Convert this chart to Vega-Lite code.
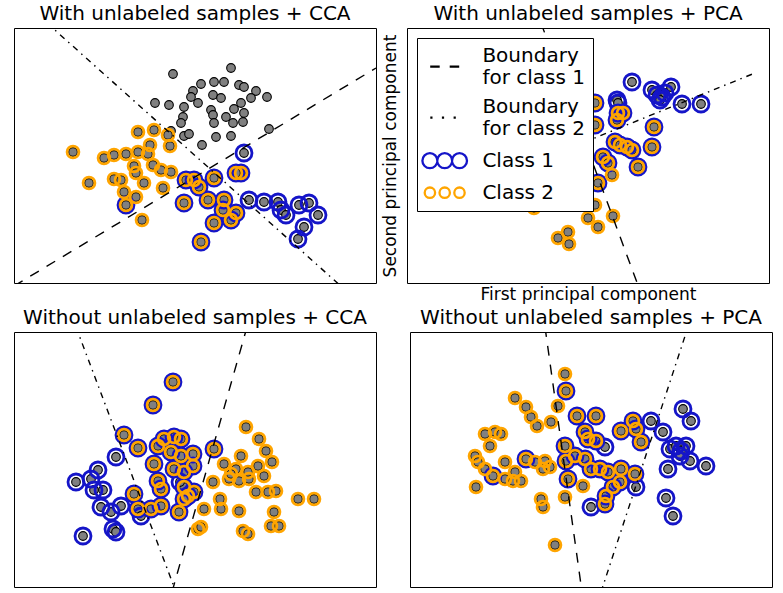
{
"$schema":"https://vega.github.io/schema/vega-lite/v6.json",
"background":"white",
"padding":{"left":13,"top":3,"right":5,"bottom":5},
"config":{
 "font":"DejaVu Sans",
 "view":{"stroke":"black","strokeWidth":1},
 "title":{"font":"DejaVu Sans","fontSize":20,"fontWeight":"normal","color":"black","offset":4,"anchor":"middle"},
 "axis":{"titleFont":"DejaVu Sans","titleFontSize":17,"titleFontWeight":"normal","titleColor":"black","grid":false,"domain":false,"ticks":false,"labels":false}
},
"datasets":{
 "tl":[
  {"x":159,"y":46,"lab":"0"},{"x":141,"y":75,"lab":"0"},{"x":155,"y":77,"lab":"0"},{"x":170,"y":79,"lab":"0"},{"x":179,"y":63,"lab":"0"},{"x":177,"y":69,"lab":"0"},{"x":184,"y":75,"lab":"0"},{"x":169,"y":89,"lab":"0"},{"x":167,"y":95,"lab":"0"},{"x":157,"y":103,"lab":"0"},{"x":170,"y":108,"lab":"0"},{"x":175,"y":106,"lab":"0"},{"x":188,"y":117,"lab":"0"},{"x":217,"y":40,"lab":"0"},{"x":187,"y":56,"lab":"0"},{"x":200,"y":54,"lab":"0"},{"x":210,"y":54,"lab":"0"},{"x":225,"y":57,"lab":"0"},{"x":230,"y":59,"lab":"0"},{"x":242,"y":63,"lab":"0"},{"x":199,"y":67,"lab":"0"},{"x":207,"y":70,"lab":"0"},{"x":237,"y":70,"lab":"0"},{"x":253,"y":69,"lab":"0"},{"x":227,"y":75,"lab":"0"},{"x":197,"y":82,"lab":"0"},{"x":220,"y":81,"lab":"0"},{"x":230,"y":85,"lab":"0"},{"x":212,"y":89,"lab":"0"},{"x":199,"y":87,"lab":"0"},{"x":219,"y":95,"lab":"0"},{"x":229,"y":94,"lab":"0"},{"x":255,"y":101,"lab":"0"},{"x":200,"y":95,"lab":"0"},{"x":202,"y":109,"lab":"0"},{"x":217,"y":108,"lab":"0"},
  {"x":59,"y":124,"lab":"2"},{"x":75,"y":155,"lab":"2"},{"x":124,"y":104,"lab":"2"},{"x":140,"y":102,"lab":"2"},{"x":154,"y":107,"lab":"2"},{"x":156,"y":118,"lab":"2"},{"x":136,"y":117,"lab":"2"},{"x":124,"y":124,"lab":"2"},{"x":112,"y":126,"lab":"2"},{"x":100,"y":127,"lab":"2"},{"x":90,"y":130,"lab":"2"},{"x":134,"y":126,"lab":"2"},{"x":120,"y":138,"lab":"2"},{"x":139,"y":137,"lab":"2"},{"x":147,"y":142,"lab":"2"},{"x":157,"y":144,"lab":"2"},{"x":100,"y":151,"lab":"2"},{"x":107,"y":152,"lab":"2"},{"x":122,"y":145,"lab":"2"},{"x":130,"y":155,"lab":"2"},{"x":149,"y":160,"lab":"2"},{"x":110,"y":164,"lab":"2"},{"x":122,"y":169,"lab":"2"},{"x":128,"y":192,"lab":"2"},
  {"x":112,"y":177,"lab":"12"},{"x":172,"y":152,"lab":"12"},{"x":170,"y":175,"lab":"12"},{"x":187,"y":214,"lab":"12"},{"x":227,"y":145,"lab":"12"},{"x":222,"y":145,"lab":"12"},{"x":200,"y":150,"lab":"12"},{"x":180,"y":152,"lab":"12"},{"x":185,"y":159,"lab":"12"},{"x":194,"y":172,"lab":"12"},{"x":210,"y":172,"lab":"12"},{"x":209,"y":182,"lab":"12"},{"x":222,"y":185,"lab":"12"},{"x":200,"y":195,"lab":"12"},{"x":217,"y":192,"lab":"12"},
  {"x":230,"y":125,"lab":"1"},{"x":235,"y":172,"lab":"1"},{"x":250,"y":174,"lab":"1"},{"x":264,"y":174,"lab":"1"},{"x":267,"y":182,"lab":"1"},{"x":272,"y":187,"lab":"1"},{"x":285,"y":177,"lab":"1"},{"x":295,"y":175,"lab":"1"},{"x":304,"y":187,"lab":"1"},{"x":290,"y":199,"lab":"1"},{"x":284,"y":211,"lab":"1"}
 ],
 "tl_lines":[{"b":"1","x":0,"y":258},{"b":"1","x":362,"y":40},{"b":"2","x":33,"y":-5},{"b":"2","x":329,"y":260}],
 "tr":[
  {"x":127,"y":180,"lab":"2"},{"x":151,"y":210,"lab":"2"},{"x":161,"y":204,"lab":"2"},{"x":162,"y":216,"lab":"2"},{"x":205,"y":147,"lab":"2"},{"x":188,"y":177,"lab":"2"},{"x":181,"y":190,"lab":"2"},{"x":191,"y":199,"lab":"2"},{"x":206,"y":188,"lab":"2"},
  {"x":225,"y":54,"lab":"1"},{"x":245,"y":62,"lab":"1"},{"x":250,"y":67,"lab":"1"},{"x":255,"y":69,"lab":"1"},{"x":258,"y":65,"lab":"1"},{"x":264,"y":59,"lab":"1"},{"x":253,"y":72,"lab":"1"},{"x":275,"y":76,"lab":"1"},{"x":294,"y":76,"lab":"1"},{"x":210,"y":72,"lab":"1"},{"x":211,"y":75,"lab":"1"},
  {"x":188,"y":75,"lab":"12"},{"x":188,"y":97,"lab":"12"},{"x":211,"y":85,"lab":"12"},{"x":216,"y":85,"lab":"12"},{"x":210,"y":92,"lab":"12"},{"x":247,"y":99,"lab":"12"},{"x":208,"y":114,"lab":"12"},{"x":213,"y":117,"lab":"12"},{"x":220,"y":119,"lab":"12"},{"x":225,"y":122,"lab":"12"},{"x":245,"y":119,"lab":"12"},{"x":196,"y":129,"lab":"12"},{"x":201,"y":135,"lab":"12"},{"x":231,"y":139,"lab":"12"},{"x":191,"y":155,"lab":"12"}
 ],
 "tr_lines":[{"b":"1","x":134,"y":-5},{"b":"1","x":232,"y":260},{"b":"2","x":15,"y":180},{"b":"2","x":348,"y":45}],
 "bl":[
  {"x":159,"y":50,"lab":"12"},{"x":139,"y":73,"lab":"12"},{"x":110,"y":103,"lab":"12"},{"x":124,"y":116,"lab":"12"},{"x":120,"y":162,"lab":"12"},{"x":124,"y":177,"lab":"12"},{"x":137,"y":177,"lab":"12"},{"x":147,"y":174,"lab":"12"},{"x":140,"y":132,"lab":"12"},{"x":150,"y":107,"lab":"12"},{"x":160,"y":105,"lab":"12"},{"x":144,"y":114,"lab":"12"},{"x":157,"y":120,"lab":"12"},{"x":167,"y":124,"lab":"12"},{"x":179,"y":122,"lab":"12"},{"x":144,"y":149,"lab":"12"},{"x":147,"y":157,"lab":"12"},{"x":160,"y":137,"lab":"12"},{"x":170,"y":140,"lab":"12"},{"x":179,"y":134,"lab":"12"},{"x":174,"y":164,"lab":"12"},{"x":180,"y":160,"lab":"12"},{"x":165,"y":180,"lab":"12"},{"x":167,"y":107,"lab":"12"},{"x":170,"y":155,"lab":"12"},{"x":170,"y":167,"lab":"12"},{"x":200,"y":117,"lab":"12"},
  {"x":102,"y":125,"lab":"1"},{"x":62,"y":150,"lab":"1"},{"x":84,"y":138,"lab":"1"},{"x":77,"y":147,"lab":"1"},{"x":80,"y":158,"lab":"1"},{"x":89,"y":158,"lab":"1"},{"x":87,"y":175,"lab":"1"},{"x":97,"y":180,"lab":"1"},{"x":107,"y":174,"lab":"1"},{"x":99,"y":197,"lab":"1"},{"x":102,"y":200,"lab":"1"},{"x":69,"y":204,"lab":"1"},{"x":127,"y":184,"lab":"1"},{"x":166,"y":150,"lab":"1"},
  {"x":184,"y":197,"lab":"2"},{"x":232,"y":95,"lab":"2"},{"x":245,"y":107,"lab":"2"},{"x":252,"y":119,"lab":"2"},{"x":258,"y":130,"lab":"2"},{"x":227,"y":124,"lab":"2"},{"x":199,"y":150,"lab":"2"},{"x":210,"y":132,"lab":"2"},{"x":222,"y":137,"lab":"2"},{"x":244,"y":134,"lab":"2"},{"x":215,"y":147,"lab":"2"},{"x":225,"y":149,"lab":"2"},{"x":235,"y":147,"lab":"2"},{"x":250,"y":144,"lab":"2"},{"x":242,"y":160,"lab":"2"},{"x":254,"y":160,"lab":"2"},{"x":262,"y":159,"lab":"2"},{"x":284,"y":167,"lab":"2"},{"x":300,"y":167,"lab":"2"},{"x":206,"y":167,"lab":"2"},{"x":207,"y":177,"lab":"2"},{"x":190,"y":177,"lab":"2"},{"x":225,"y":179,"lab":"2"},{"x":260,"y":180,"lab":"2"},{"x":257,"y":194,"lab":"2"},{"x":265,"y":194,"lab":"2"},{"x":187,"y":195,"lab":"2"},{"x":229,"y":199,"lab":"2"},{"x":234,"y":202,"lab":"2"},{"x":217,"y":142,"lab":"2"},{"x":234,"y":140,"lab":"2"}
 ],
 "bl_lines":[{"b":"1","x":233,"y":-5},{"b":"1","x":158,"y":260},{"b":"2","x":62,"y":-5},{"b":"2","x":162,"y":260}],
 "br":[
  {"x":155,"y":42,"lab":"2"},{"x":105,"y":66,"lab":"2"},{"x":116,"y":75,"lab":"2"},{"x":121,"y":85,"lab":"2"},{"x":127,"y":94,"lab":"2"},{"x":141,"y":90,"lab":"2"},{"x":148,"y":74,"lab":"2"},{"x":75,"y":102,"lab":"2"},{"x":85,"y":100,"lab":"2"},{"x":91,"y":102,"lab":"2"},{"x":80,"y":114,"lab":"2"},{"x":65,"y":124,"lab":"2"},{"x":68,"y":130,"lab":"2"},{"x":75,"y":137,"lab":"2"},{"x":95,"y":147,"lab":"2"},{"x":95,"y":130,"lab":"2"},{"x":103,"y":149,"lab":"2"},{"x":111,"y":149,"lab":"2"},{"x":105,"y":140,"lab":"2"},{"x":125,"y":130,"lab":"2"},{"x":133,"y":137,"lab":"2"},{"x":140,"y":135,"lab":"2"},{"x":135,"y":129,"lab":"2"},{"x":66,"y":155,"lab":"2"},{"x":131,"y":167,"lab":"2"},{"x":133,"y":175,"lab":"2"},{"x":145,"y":213,"lab":"2"},{"x":173,"y":154,"lab":"2"},{"x":155,"y":165,"lab":"2"},
  {"x":156,"y":59,"lab":"12"},{"x":167,"y":84,"lab":"12"},{"x":186,"y":84,"lab":"12"},{"x":83,"y":144,"lab":"12"},{"x":116,"y":127,"lab":"12"},{"x":155,"y":114,"lab":"12"},{"x":156,"y":129,"lab":"12"},{"x":158,"y":147,"lab":"12"},{"x":175,"y":100,"lab":"12"},{"x":178,"y":107,"lab":"12"},{"x":165,"y":124,"lab":"12"},{"x":175,"y":127,"lab":"12"},{"x":181,"y":137,"lab":"12"},{"x":186,"y":109,"lab":"12"},{"x":211,"y":99,"lab":"12"},{"x":223,"y":89,"lab":"12"},{"x":226,"y":97,"lab":"12"},{"x":231,"y":110,"lab":"12"},{"x":190,"y":137,"lab":"12"},{"x":198,"y":140,"lab":"12"},{"x":211,"y":137,"lab":"12"},{"x":225,"y":142,"lab":"12"},{"x":210,"y":150,"lab":"12"},{"x":203,"y":155,"lab":"12"},{"x":196,"y":164,"lab":"12"},{"x":195,"y":172,"lab":"12"},
  {"x":181,"y":175,"lab":"1"},{"x":195,"y":115,"lab":"1"},{"x":241,"y":89,"lab":"1"},{"x":253,"y":100,"lab":"1"},{"x":273,"y":77,"lab":"1"},{"x":281,"y":89,"lab":"1"},{"x":260,"y":117,"lab":"1"},{"x":266,"y":114,"lab":"1"},{"x":271,"y":119,"lab":"1"},{"x":270,"y":124,"lab":"1"},{"x":276,"y":114,"lab":"1"},{"x":280,"y":129,"lab":"1"},{"x":296,"y":134,"lab":"1"},{"x":258,"y":137,"lab":"1"},{"x":256,"y":166,"lab":"1"},{"x":263,"y":184,"lab":"1"},{"x":226,"y":155,"lab":"1"}
 ],
 "br_lines":[{"b":"1","x":135,"y":-5},{"b":"1","x":172,"y":260},{"b":"2","x":278,"y":-5},{"b":"2","x":191,"y":260}]
},
"resolve":{"scale":{"stroke":"independent","shape":"independent"},"legend":{"stroke":"independent","shape":"independent"}},
"spacing":4,
"vconcat":[
 {"hconcat":[
  {"width":362,"height":255,"title":"With unlabeled samples + CCA",
   "encoding":{"x":{"field":"x","type":"quantitative","scale":{"domain":[0,362],"nice":false,"zero":false},"axis":null},
               "y":{"field":"y","type":"quantitative","scale":{"domain":[0,255],"nice":false,"zero":false,"reverse":true},"axis":null}},
   "layer":[
    {"data":{"name":"tl"},"mark":{"type":"point","filled":true,"fill":"#808080","stroke":"black","strokeWidth":1.1,"size":75,"opacity":1,"clip":true}},
    {"data":{"name":"tl"},"transform":[{"filter":"indexof(datum.lab,'1')>=0"}],"mark":{"type":"point","filled":false,"stroke":"#1515c8","strokeWidth":2.8,"size":256,"opacity":1,"clip":true}},
    {"data":{"name":"tl"},"transform":[{"filter":"indexof(datum.lab,'2')>=0"}],"mark":{"type":"point","filled":false,"stroke":"#ffa500","strokeWidth":2.8,"size":140,"opacity":1,"clip":true}},
    {"data":{"name":"tl_lines"},"transform":[{"filter":"datum.b=='1'"}],"mark":{"type":"line","stroke":"black","strokeWidth":1.4,"strokeDash":[10,9],"clip":true}},
    {"data":{"name":"tl_lines"},"transform":[{"filter":"datum.b=='2'"}],"mark":{"type":"line","stroke":"black","strokeWidth":1.4,"strokeDash":[6,5,1.5,5],"clip":true}}
   ]},
  {"width":362,"height":255,"title":"With unlabeled samples + PCA",
   "encoding":{"x":{"field":"x","type":"quantitative","scale":{"domain":[0,362],"nice":false,"zero":false},"axis":{"title":"First principal component","titlePadding":3}},
               "y":{"field":"y","type":"quantitative","scale":{"domain":[0,255],"nice":false,"zero":false,"reverse":true},"axis":{"title":"Second principal component","titlePadding":8}}},
   "layer":[
    {"data":{"name":"tr"},"mark":{"type":"point","filled":true,"fill":"#808080","stroke":"black","strokeWidth":1.1,"size":75,"opacity":1,"clip":true}},
    {"data":{"name":"tr"},"transform":[{"filter":"indexof(datum.lab,'1')>=0"}],"mark":{"type":"point","filled":false,"stroke":"#1515c8","strokeWidth":2.8,"size":256,"opacity":1,"clip":true}},
    {"data":{"name":"tr"},"transform":[{"filter":"indexof(datum.lab,'2')>=0"}],"mark":{"type":"point","filled":false,"stroke":"#ffa500","strokeWidth":2.8,"size":140,"opacity":1,"clip":true}},
    {"data":{"name":"tr_lines"},"transform":[{"filter":"datum.b=='1'"}],"mark":{"type":"line","stroke":"black","strokeWidth":1.4,"strokeDash":[10,9],"clip":true}},
    {"data":{"name":"tr_lines"},"transform":[{"filter":"datum.b=='2'"}],"mark":{"type":"line","stroke":"black","strokeWidth":1.4,"strokeDash":[6,5,1.5,5],"clip":true}},
    {"data":{"name":"tr"},"transform":[{"filter":"datum.lab=='legend-only'"}],"mark":{"type":"point","filled":false,"strokeWidth":2.3,"opacity":1},
     "encoding":{
      "stroke":{"datum":"Class 1",
       "scale":{"domain":["Boundary for class 1","Boundary for class 2","Class 1","Class 2"],"range":["black","black","#1515c8","#ffa500"]},
       "legend":{"title":null,"orient":"top-left","offset":10,"padding":7.7,"fillColor":"white","strokeColor":"black","cornerRadius":0,
         "symbolSize":100,"symbolStrokeWidth":2.3,"symbolOpacity":1,"labelFont":"DejaVu Sans","labelFontSize":20,"labelColor":"black","labelOffset":37.7,"labelLimit":0,"rowPadding":9,
         "labelExpr":"indexof(datum.label,'Boundary')==0 ? ['Boundary', substring(datum.label, 9)] : datum.label"}},
      "shape":{"datum":"Class 1",
       "scale":{"domain":["Boundary for class 1","Boundary for class 2","Class 1","Class 2"],
                "range":["M-0.9,2.2L1,2.2M3,2.2L4.9,2.2",
                         "M-0.88,2.2L-0.44,2.2M1.44,2.2L1.88,2.2M3.78,2.2L4.22,2.2",
                         "M0.54,0A1.5,1.5,0,1,1,-2.46,0A1.5,1.5,0,1,1,0.54,0ZM3.5,0A1.5,1.5,0,1,1,0.5,0A1.5,1.5,0,1,1,3.5,0ZM6.46,0A1.5,1.5,0,1,1,3.46,0A1.5,1.5,0,1,1,6.46,0Z",
                         "M0.08,0A1.04,1.04,0,1,1,-2,0A1.04,1.04,0,1,1,0.08,0ZM3.04,0A1.04,1.04,0,1,1,0.96,0A1.04,1.04,0,1,1,3.04,0ZM6,0A1.04,1.04,0,1,1,3.92,0A1.04,1.04,0,1,1,6,0Z"]},
       "legend":{"title":null,"orient":"top-left","offset":10,"padding":7.7,"fillColor":"white","strokeColor":"black","cornerRadius":0,
         "symbolSize":100,"symbolStrokeWidth":2.3,"symbolOpacity":1,"labelFont":"DejaVu Sans","labelFontSize":20,"labelColor":"black","labelOffset":37.7,"labelLimit":0,"rowPadding":9,
         "labelExpr":"indexof(datum.label,'Boundary')==0 ? ['Boundary', substring(datum.label, 9)] : datum.label"}}
     }}
   ]}
 ],"spacing":3,"resolve":{"scale":{"stroke":"independent","shape":"independent"},"legend":{"stroke":"independent","shape":"independent"}}},
 {"hconcat":[
  {"width":362,"height":255,"title":"Without unlabeled samples + CCA",
   "encoding":{"x":{"field":"x","type":"quantitative","scale":{"domain":[0,362],"nice":false,"zero":false},"axis":null},
               "y":{"field":"y","type":"quantitative","scale":{"domain":[0,255],"nice":false,"zero":false,"reverse":true},"axis":null}},
   "layer":[
    {"data":{"name":"bl"},"mark":{"type":"point","filled":true,"fill":"#808080","stroke":"black","strokeWidth":1.1,"size":75,"opacity":1,"clip":true}},
    {"data":{"name":"bl"},"transform":[{"filter":"indexof(datum.lab,'1')>=0"}],"mark":{"type":"point","filled":false,"stroke":"#1515c8","strokeWidth":2.8,"size":256,"opacity":1,"clip":true}},
    {"data":{"name":"bl"},"transform":[{"filter":"indexof(datum.lab,'2')>=0"}],"mark":{"type":"point","filled":false,"stroke":"#ffa500","strokeWidth":2.8,"size":140,"opacity":1,"clip":true}},
    {"data":{"name":"bl_lines"},"transform":[{"filter":"datum.b=='1'"}],"mark":{"type":"line","stroke":"black","strokeWidth":1.4,"strokeDash":[10,9],"clip":true}},
    {"data":{"name":"bl_lines"},"transform":[{"filter":"datum.b=='2'"}],"mark":{"type":"line","stroke":"black","strokeWidth":1.4,"strokeDash":[6,5,1.5,5],"clip":true}}
   ]},
  {"width":362,"height":255,"title":"Without unlabeled samples + PCA",
   "encoding":{"x":{"field":"x","type":"quantitative","scale":{"domain":[0,362],"nice":false,"zero":false},"axis":null},
               "y":{"field":"y","type":"quantitative","scale":{"domain":[0,255],"nice":false,"zero":false,"reverse":true},"axis":null}},
   "layer":[
    {"data":{"name":"br"},"mark":{"type":"point","filled":true,"fill":"#808080","stroke":"black","strokeWidth":1.1,"size":75,"opacity":1,"clip":true}},
    {"data":{"name":"br"},"transform":[{"filter":"indexof(datum.lab,'1')>=0"}],"mark":{"type":"point","filled":false,"stroke":"#1515c8","strokeWidth":2.8,"size":256,"opacity":1,"clip":true}},
    {"data":{"name":"br"},"transform":[{"filter":"indexof(datum.lab,'2')>=0"}],"mark":{"type":"point","filled":false,"stroke":"#ffa500","strokeWidth":2.8,"size":140,"opacity":1,"clip":true}},
    {"data":{"name":"br_lines"},"transform":[{"filter":"datum.b=='1'"}],"mark":{"type":"line","stroke":"black","strokeWidth":1.4,"strokeDash":[10,9],"clip":true}},
    {"data":{"name":"br_lines"},"transform":[{"filter":"datum.b=='2'"}],"mark":{"type":"line","stroke":"black","strokeWidth":1.4,"strokeDash":[6,5,1.5,5],"clip":true}}
   ]}
 ],"spacing":32}
]
}
